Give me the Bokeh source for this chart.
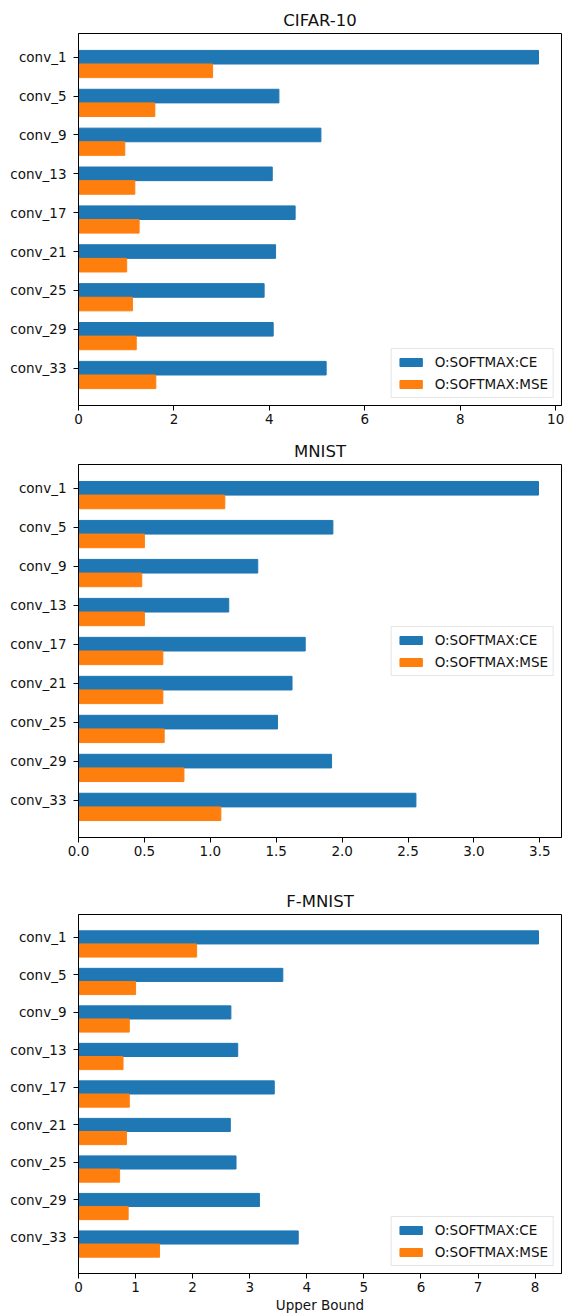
import numpy as np
from bokeh.plotting import figure
from bokeh.layouts import column
from bokeh.models import Range1d, FixedTicker, PrintfTickFormatter
from bokeh.embed import file_html
from bokeh.resources import INLINE

layers = ["conv_1", "conv_5", "conv_9", "conv_13", "conv_17",
          "conv_21", "conv_25", "conv_29", "conv_33"]

cifar_ce = [9.64, 4.20, 5.08, 4.06, 4.54, 4.13, 3.89, 4.08, 5.19]
cifar_mse = [2.81, 1.60, 0.97, 1.18, 1.27, 1.01, 1.13, 1.21, 1.62]

mnist_ce = [3.49, 1.93, 1.36, 1.14, 1.72, 1.62, 1.51, 1.92, 2.56]
mnist_mse = [1.11, 0.50, 0.48, 0.50, 0.64, 0.64, 0.65, 0.80, 1.08]

fmnist_ce = [8.06, 3.58, 2.67, 2.79, 3.43, 2.66, 2.76, 3.17, 3.85]
fmnist_mse = [2.07, 1.00, 0.89, 0.78, 0.89, 0.84, 0.72, 0.87, 1.42]

cifar_ticks = [0, 2, 4, 6, 8, 10]
mnist_ticks = [0.0, 0.5, 1.0, 1.5, 2.0, 2.5, 3.0, 3.5]
fmnist_ticks = [0, 1, 2, 3, 4, 5, 6, 7, 8]

labels = ["O:SOFTMAX:CE", "O:SOFTMAX:MSE"]
BLUE = "#1f77b4"
ORANGE = "#ff7f0e"
FONT = "DejaVu Sans"
BAR_H = 0.35


def make_panel(title, ce, mse, ticks, fmt, legend_loc, height,
               b_top, b_bottom, b_left, b_right, xlabel=None):
    idx = np.arange(len(layers))
    xmax = max(max(ce), max(mse)) * 1.05
    ylo = -BAR_H / 2
    yhi = len(layers) - 1 + BAR_H + BAR_H / 2
    pad = (yhi - ylo) * 0.05
    p = figure(width=580, height=height, output_backend="svg",
               toolbar_location=None,
               x_range=Range1d(0, xmax),
               y_range=Range1d(yhi + pad, ylo - pad),
               min_border_top=b_top, min_border_bottom=b_bottom,
               min_border_left=b_left, min_border_right=b_right)
    p.hbar(y=idx, right=ce, height=BAR_H, color=BLUE,
           legend_label=labels[0])
    p.hbar(y=idx + BAR_H, right=mse, height=BAR_H, color=ORANGE,
           legend_label=labels[1])

    p.title.text = title
    p.title.align = "center"
    p.title.text_font = FONT
    p.title.text_font_size = "16.5px"
    p.title.text_font_style = "normal"
    p.title.text_color = "#111111"
    p.title.standoff = 7

    p.xgrid.visible = False
    p.ygrid.visible = False
    p.outline_line_color = "black"

    for ax in (p.xaxis[0], p.yaxis[0]):
        ax.axis_line_color = "black"
        ax.major_tick_line_color = "black"
        ax.major_tick_out = 5
        ax.major_tick_in = 0
        ax.minor_tick_line_color = None
        ax.major_label_text_font = FONT
        ax.major_label_text_font_size = "13.5px"
        ax.major_label_text_color = "#111111"
        ax.major_label_standoff = 3

    p.xaxis.ticker = FixedTicker(ticks=ticks)
    p.xaxis.formatter = PrintfTickFormatter(format=fmt)
    p.yaxis.ticker = FixedTicker(ticks=list(idx))
    p.yaxis.major_label_overrides = {int(i): l for i, l in enumerate(layers)}
    p.yaxis.major_label_standoff = 7

    if xlabel:
        p.xaxis.axis_label = xlabel
        p.xaxis.axis_label_text_font = FONT
        p.xaxis.axis_label_text_font_size = "13.5px"
        p.xaxis.axis_label_text_font_style = "normal"
        p.xaxis.axis_label_text_color = "#111111"
        p.xaxis.axis_label_standoff = 2

    lg = p.legend[0]
    lg.location = legend_loc
    lg.margin = 7
    lg.padding = 5
    lg.spacing = 6
    lg.glyph_width = 28
    lg.glyph_height = 10
    lg.label_height = 16
    lg.label_standoff = 10
    lg.label_text_font = FONT
    lg.label_text_font_size = "13.5px"
    lg.label_text_color = "#111111"
    lg.border_line_color = "#cccccc"
    lg.border_line_width = 1
    lg.background_fill_alpha = 0.8
    return p


p1 = make_panel("CIFAR-10", cifar_ce, cifar_mse, cifar_ticks, "%d",
                "bottom_right", 435, 33, 30, 78, 2)
p2 = make_panel("MNIST", mnist_ce, mnist_mse, mnist_ticks, "%.1f",
                "center_right", 450, 29, 48, 77, 2)
p3 = make_panel("F-MNIST", fmnist_ce, fmnist_mse, fmnist_ticks, "%d",
                "bottom_right", 430, 29, 39, 76, 19, xlabel="Upper Bound")

layout = column(p1, p2, p3)
open("out.html", "w").write(file_html(layout, INLINE))
